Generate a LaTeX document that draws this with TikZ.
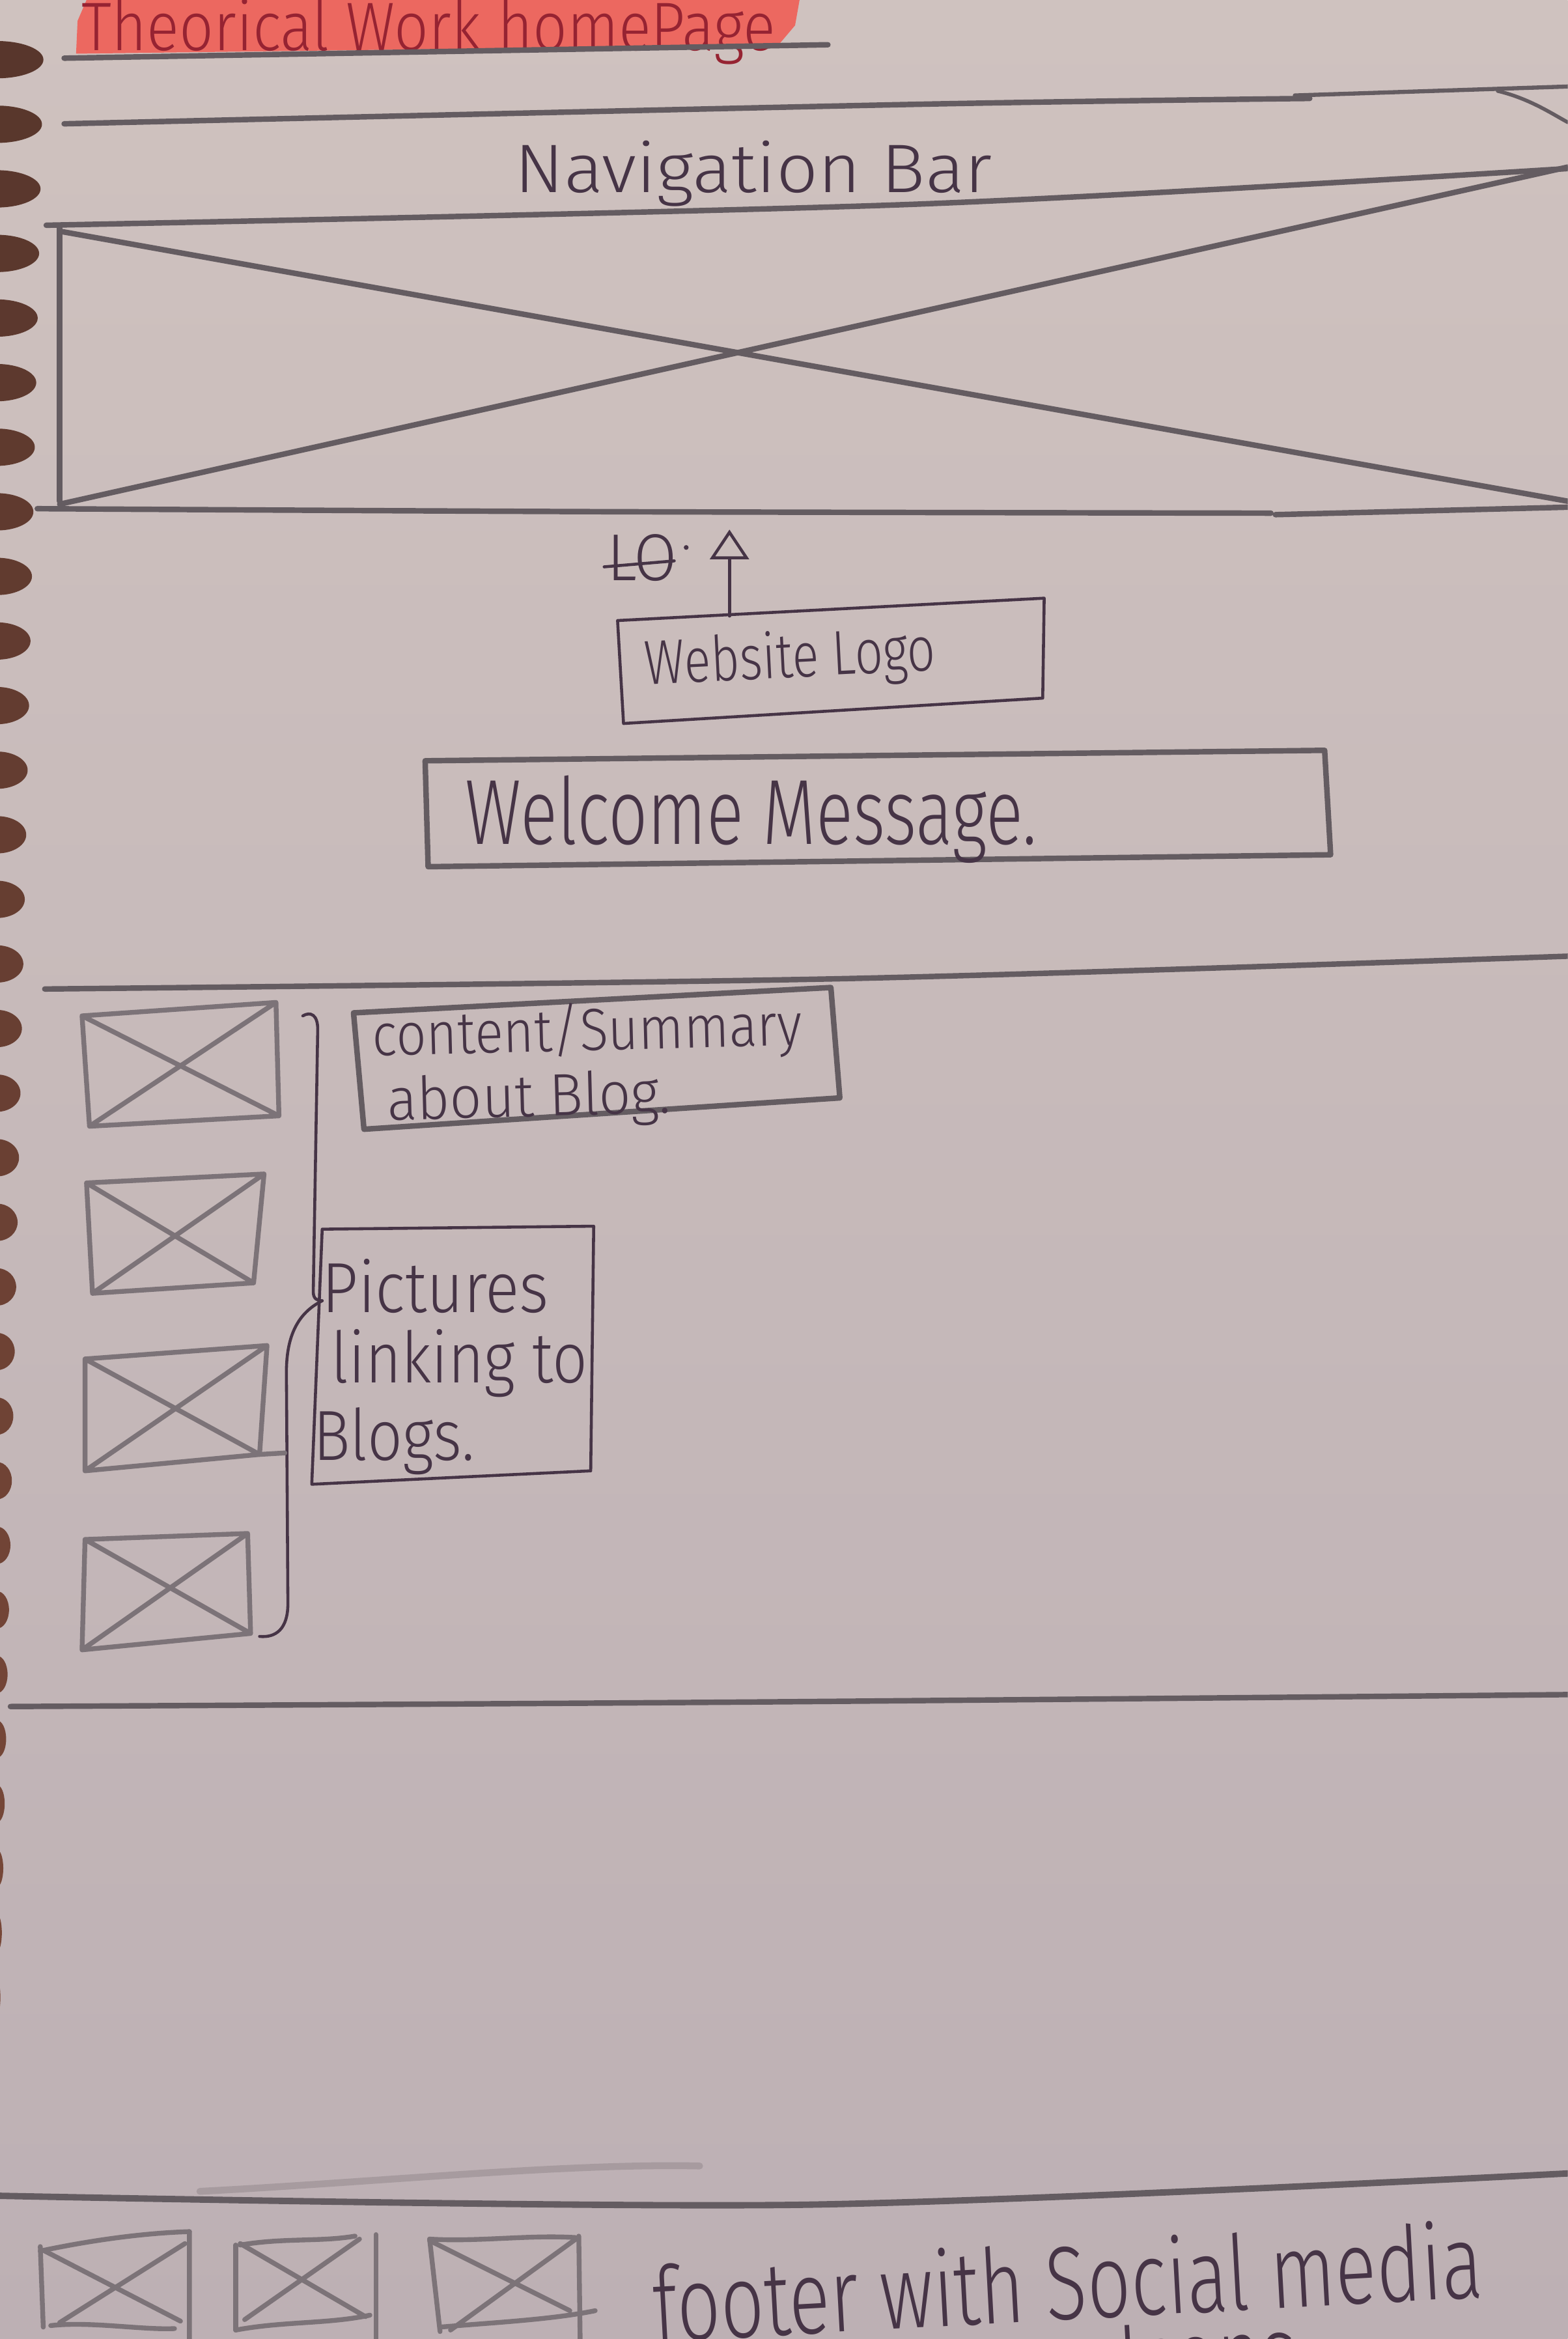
\documentclass[tikz,border=0pt]{standalone}
\usepackage{fontspec}
\usepackage{graphicx}
\usetikzlibrary{arrows.meta}
\newfontfamily\hand{Fira Sans Light}
\definecolor{paperTop}{RGB}{207,194,191}
\definecolor{paperBot}{RGB}{189,176,180}
\definecolor{holeA}{RGB}{88,54,44}
\definecolor{holeB}{RGB}{124,74,58}
\definecolor{pen}{RGB}{70,52,70}
\definecolor{pencilDark}{RGB}{100,92,97}
\definecolor{pencilLight}{RGB}{124,115,120}
\definecolor{marker}{RGB}{236,104,96}
\definecolor{redink}{RGB}{150,35,50}
\newlength\unitpx
\setlength\unitpx{0.0229cm}
% handwriting face at a given size in pt
\newcommand\hf[1]{\hand\fontsize{#1pt}{#1pt}\selectfont}
% text squeezed or stretched to a given width (in sketch units), natural height kept
\newcommand\handw[2]{\resizebox{#1\unitpx}{\height}{#2}}
% pencilled image placeholder: a quadrilateral with both diagonals
\newcommand\xbox[4]{\draw[pencilbox] (#1) -- (#2) -- (#3) -- (#4) -- cycle (#1) -- (#3) (#2) -- (#4);}
\tikzset{
  pencil/.style={draw=pencilDark, line width=2.4pt, line cap=round, line join=round},
  pencilbox/.style={draw=pencilLight, line width=2.1pt, line cap=round, line join=round},
  penline/.style={draw=pen, line width=1.3pt, line cap=round, line join=round},
  handtext/.style={inner sep=0pt, outer sep=0pt, text=pen, anchor=base west},
}
\begin{document}
\begin{tikzpicture}[x=0.0229cm, y=-0.0229cm]
\useasboundingbox (0,0) rectangle (1051,1568);
\clip (0,0) rectangle (1051,1568);
\shade[top color=paperTop, bottom color=paperBot] (0,0) rectangle (1051,1568);

% spiral binding holes along the left edge
\foreach \k in {0,...,30}{
  \pgfmathsetmacro\hy{40+43.3*\k}
  \pgfmathsetmacro\rx{max(2,32-0.0222*\hy)}
  \pgfmathtruncatemacro\mixv{100-3*\k}
  \fill[holeA!\mixv!holeB] (-2,\hy) ellipse [x radius=\rx, y radius=12.5];
}

% ---- title, highlighted ----
\fill[marker] (58,0) -- (536,0) -- (533,17) -- (522,30) -- (51,36) -- (52,14) -- cycle;
\node[handtext, text=redink, font=\hf{30}] (title) at (55,34) {\handw{465}{Theorical Work homePage}};
\draw[pencil] (43,39) -- (555,30);

% ---- navigation bar ----
\draw[pencil] plot[smooth] coordinates {(43,83) (611,70) (878,66)};
\draw[pencil, line width=1.8pt] (868,64) -- (1051,58);
\draw[pencil, line width=1.6pt] (1004,61) .. controls (1025,66) and (1040,76) .. (1051,82);
\node[handtext, font=\hf{30}] (navText) at (345,129) {\handw{320}{Navigation Bar}};

% navigation image placeholder
\draw[pencil] plot[smooth] coordinates {(31,151) (611,137) (1051,113)};
\draw[pencil] (40,152) -- (40,336);
\draw[pencil] plot[smooth] coordinates {(25,341) (400,343) (852,344)};
\draw[pencil] (855,345) -- (1051,340);
\draw[pencil] (40,155) -- (1051,336);
\draw[pencil] (40,338) -- (1051,112);

% ---- website logo ----
\node[handtext, font=\hf{29}] (loText) at (407,389) {\handw{47}{LO}};
\draw[penline] (405,380) -- (452,376);
\fill[pen] (460,367) circle [radius=1.6];
\draw[penline] (414,416) -- (700,401) -- (699,468) -- (418,485) -- cycle;
\node[handtext, font=\hf{27.4}, rotate=2.9] (logoText) at (433,459) {\handw{195}{Website Logo}};
\coordinate (logoTop) at (489,413);
\coordinate (logoTip) at (489,355);
\draw[penline, -{Triangle[open, length=13pt, width=17pt]}] (logoTop) -- (logoTip);

% ---- welcome message ----
\draw[pencil] (285,510) -- (888,503) -- (892,573) -- (287,581) -- cycle;
\node[handtext, font=\hf{40.4}] (welcome) at (312,566) {\handw{383}{Welcome Message.}};

% ---- blog section ----
\draw[pencil] plot[smooth] coordinates {(30,663) (568,656) (1051,641)};

\xbox{55,681}{185,672}{187,748}{60,755}
\xbox{58,793}{177,787}{170,860}{62,867}
\xbox{57,911}{179,902}{174,975}{57,986}
\xbox{57,1032}{166,1028}{168,1095}{55,1106}

\draw[pencil] (237,679) -- (557,662) -- (563,736) -- (244,757) -- cycle;
\node[handtext, font=\hf{26}, rotate=1.5] (content1) at (250,708) {\handw{288}{content/Summary}};
\node[handtext, font=\hf{26}, rotate=1.5] (content2) at (260,751) {\handw{190}{about Blog.}};

\draw[penline] (216,824) -- (398,822) -- (396,986) -- (209,995) -- cycle;
\node[handtext, font=\hf{31}] (pic1) at (216,880) {\handw{152}{Pictures}};
\node[handtext, font=\hf{31}] (pic2) at (222,927) {\handw{172}{linking to}};
\node[handtext, font=\hf{31}] (pic3) at (210,979) {\handw{108}{Blogs.}};

% bracket grouping the pictures
\coordinate (brTop) at (203,681);
\coordinate (brJoin) at (216,872);
\coordinate (brEnd) at (174,1097);
\coordinate (boxThree) at (174,975);
\coordinate (boxThreeTie) at (191,974);
\draw[penline] (brTop) .. controls (208,678) and (213,680) .. (213,690) -- (210,866) .. controls (210,871) and (213,872) .. (brJoin);
\draw[penline] (brJoin) .. controls (200,880) and (192,895) .. (192,920) -- (193,1075) .. controls (193,1092) and (185,1098) .. (brEnd);
\draw[pencilbox] (boxThree) -- (boxThreeTie);

\draw[pencil] plot[smooth] coordinates {(7,1144) (500,1141) (1051,1136)};

% ---- footer ----
\draw[pencil, opacity=0.25, line width=3pt] (134,1469) .. controls (250,1463) and (380,1450) .. (469,1452);
\draw[pencil, line width=2.8pt] plot[smooth] coordinates {(0,1472) (537,1478) (1051,1457)};

% social icon placeholders
\draw[pencilbox] (27,1509) .. controls (60,1502) and (95,1497) .. (127,1496);
\draw[pencilbox] (27,1506) -- (29,1560) (127,1496) -- (127,1575);
\draw[pencilbox] (34,1559) .. controls (60,1556) and (95,1562) .. (117,1561);
\draw[pencilbox] (30,1509) -- (121,1556) (40,1557) -- (124,1504);

\draw[pencilbox] (161,1505) .. controls (190,1500) and (215,1503) .. (238,1499);
\draw[pencilbox] (158,1505) -- (158,1562) (252,1498) -- (252,1575);
\draw[pencilbox] (158,1562) .. controls (190,1556) and (220,1558) .. (248,1552);
\draw[pencilbox] (161,1504) -- (245,1553) (164,1555) -- (241,1501);

\draw[pencilbox] (288,1501) .. controls (320,1503) and (355,1498) .. (386,1500);
\draw[pencilbox] (288,1501) -- (295,1563) (388,1499) -- (389,1575);
\draw[pencilbox] (295,1560) .. controls (330,1557) and (370,1555) .. (399,1549);
\draw[pencilbox] (288,1502) -- (382,1549) (302,1562) -- (386,1501);

\node[handtext, font=\hf{45.6}, rotate=3.1] (footerText) at (439,1570) {\handw{557}{footer with Social media}};
\node[handtext, font=\hf{45.6}, rotate=3.1] (iconsText) at (751,1607) {\handw{120}{Icons}};
\end{tikzpicture}
\end{document}
